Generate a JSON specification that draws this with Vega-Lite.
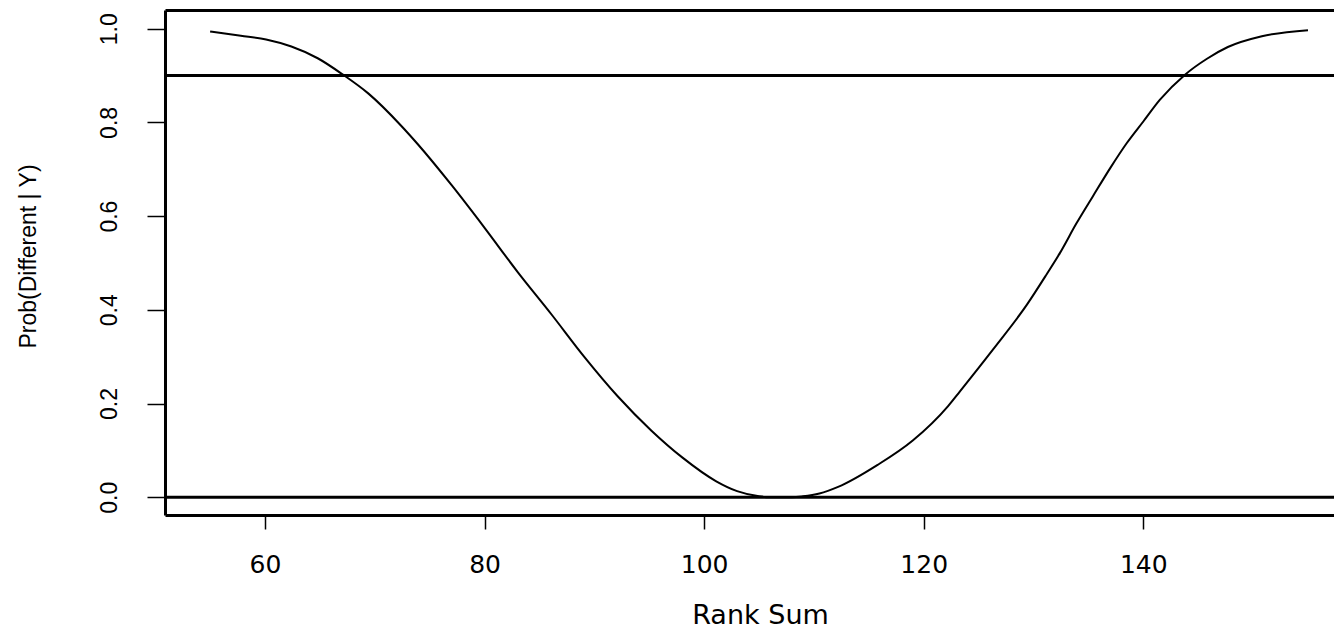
{
  "$schema": "https://vega.github.io/schema/vega-lite/v6.json",
  "autosize": {"type": "none"},
  "padding": {"left": 165, "top": 10, "right": 0, "bottom": 114},
  "width": 1169,
  "height": 505,
  "background": "white",
  "config": {"view": {"stroke": null}},
  "datasets": {
    "curve": [
      {"rank_sum": 55.0, "prob": 0.994},
      {"rank_sum": 57.8, "prob": 0.985},
      {"rank_sum": 60.1, "prob": 0.977},
      {"rank_sum": 62.4, "prob": 0.962},
      {"rank_sum": 64.8, "prob": 0.937},
      {"rank_sum": 67.1, "prob": 0.902},
      {"rank_sum": 69.4, "prob": 0.862},
      {"rank_sum": 72.4, "prob": 0.793},
      {"rank_sum": 73.9, "prob": 0.754},
      {"rank_sum": 77.0, "prob": 0.666},
      {"rank_sum": 80.0, "prob": 0.575},
      {"rank_sum": 83.0, "prob": 0.481},
      {"rank_sum": 86.1, "prob": 0.390},
      {"rank_sum": 89.1, "prob": 0.299},
      {"rank_sum": 92.1, "prob": 0.216},
      {"rank_sum": 95.2, "prob": 0.142},
      {"rank_sum": 98.0, "prob": 0.085},
      {"rank_sum": 101.1, "prob": 0.034},
      {"rank_sum": 103.0, "prob": 0.013},
      {"rank_sum": 105.0, "prob": 0.002},
      {"rank_sum": 106.0, "prob": 0.0},
      {"rank_sum": 108.0, "prob": 0.0},
      {"rank_sum": 109.0, "prob": 0.002},
      {"rank_sum": 110.5, "prob": 0.008},
      {"rank_sum": 112.2, "prob": 0.022},
      {"rank_sum": 115.8, "prob": 0.069},
      {"rank_sum": 119.0, "prob": 0.121},
      {"rank_sum": 122.2, "prob": 0.194},
      {"rank_sum": 123.3, "prob": 0.226},
      {"rank_sum": 126.3, "prob": 0.315},
      {"rank_sum": 129.4, "prob": 0.411},
      {"rank_sum": 131.2, "prob": 0.476},
      {"rank_sum": 132.4, "prob": 0.521},
      {"rank_sum": 133.9, "prob": 0.584},
      {"rank_sum": 135.4, "prob": 0.642},
      {"rank_sum": 137.0, "prob": 0.703},
      {"rank_sum": 138.5, "prob": 0.756},
      {"rank_sum": 140.0, "prob": 0.802},
      {"rank_sum": 141.5, "prob": 0.848},
      {"rank_sum": 143.8, "prob": 0.902},
      {"rank_sum": 145.8, "prob": 0.936},
      {"rank_sum": 147.7, "prob": 0.961},
      {"rank_sum": 150.8, "prob": 0.984},
      {"rank_sum": 155.0, "prob": 0.997}
    ],
    "refs": [
      {"level": 0.0},
      {"level": 0.9}
    ]
  },
  "resolve": {"axis": {"x": "independent"}},
  "layer": [
    {
      "data": {"name": "refs"},
      "mark": {"type": "rule", "color": "black", "strokeWidth": 3},
      "encoding": {
        "y": {
          "field": "level",
          "type": "quantitative",
          "scale": {"domain": [-0.038, 1.04], "nice": false, "zero": false},
          "axis": {
            "orient": "left",
            "values": [0, 0.2, 0.4, 0.6, 0.8, 1.0],
            "format": ".1f",
            "grid": false,
            "domain": true,
            "domainColor": "black",
            "domainWidth": 3,
            "ticks": true,
            "tickColor": "black",
            "tickWidth": 1.5,
            "tickSize": 18,
            "labelAngle": -90,
            "labelAlign": "center",
            "labelBaseline": "bottom",
            "labelPadding": 26,
            "labelFont": "Liberation Sans",
            "labelFontSize": 23,
            "labelColor": "black",
            "title": "Prob(Different | Y)",
            "titleFont": "Liberation Sans",
            "titleFontSize": 23,
            "titleFontWeight": "normal",
            "titleColor": "black",
            "titleX": -125,
            "titleY": 246
          }
        }
      }
    },
    {
      "data": {"name": "curve"},
      "mark": {"type": "line", "color": "black", "strokeWidth": 2, "interpolate": "monotone"},
      "encoding": {
        "x": {
          "field": "rank_sum",
          "type": "quantitative",
          "scale": {"domain": [50.89, 157.37], "nice": false, "zero": false},
          "axis": {
            "orient": "bottom",
            "values": [60, 80, 100, 120, 140],
            "format": "d",
            "grid": false,
            "domain": true,
            "domainColor": "black",
            "domainWidth": 3,
            "ticks": true,
            "tickColor": "black",
            "tickWidth": 1.5,
            "tickSize": 14,
            "labelPadding": 23,
            "labelFont": "DejaVu Sans",
            "labelFontSize": 25,
            "labelColor": "black",
            "title": "Rank Sum",
            "titleFont": "DejaVu Sans",
            "titleFontSize": 27,
            "titleFontWeight": "normal",
            "titleColor": "black",
            "titleX": 595,
            "titleY": 87
          }
        },
        "y": {"field": "prob", "type": "quantitative"}
      }
    },
    {
      "data": {"name": "curve"},
      "mark": {"type": "point", "opacity": 0},
      "encoding": {
        "x": {
          "field": "rank_sum",
          "type": "quantitative",
          "axis": {
            "orient": "top",
            "domain": true,
            "domainColor": "black",
            "domainWidth": 3,
            "ticks": false,
            "labels": false,
            "grid": false,
            "title": null
          }
        },
        "y": {"field": "prob", "type": "quantitative"}
      }
    }
  ]
}
